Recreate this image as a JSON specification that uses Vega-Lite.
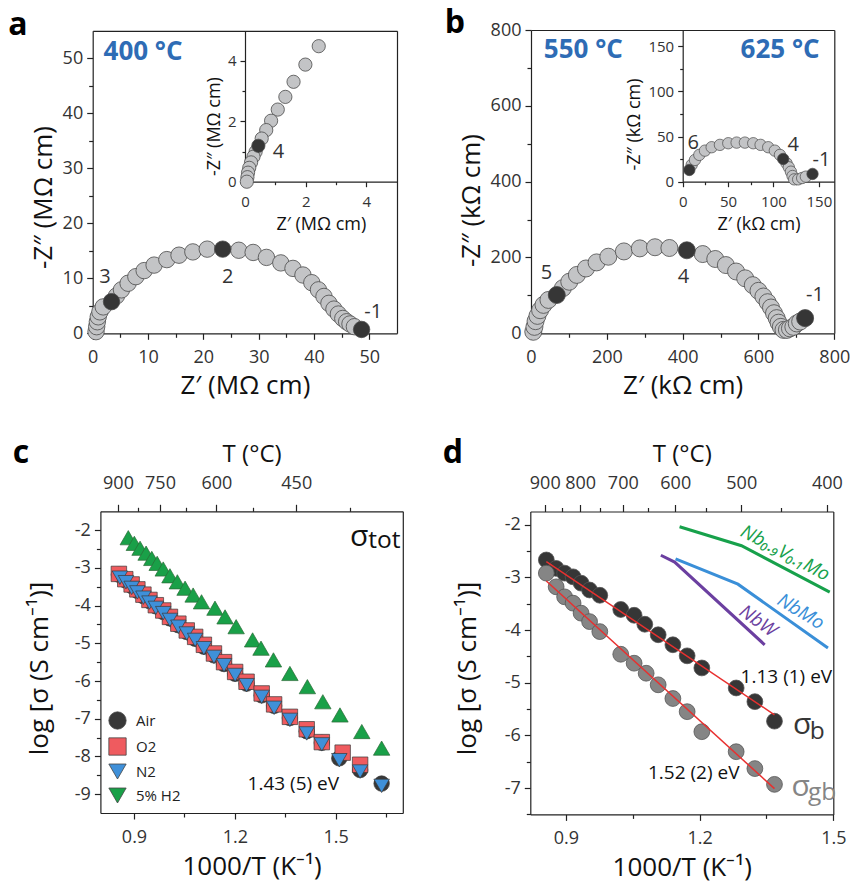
{
  "$schema": "https://vega.github.io/schema/vega-lite/v6.json",
  "width": 851,
  "height": 887,
  "autosize": "none",
  "padding": 0,
  "background": "white",
  "config": {
    "view": {"stroke": null},
    "axis": {"grid": false, "labelFont": "Open Sans", "titleFont": "Open Sans", "labelColor": "#333333", "titleColor": "#111111", "domainColor": "#222222", "tickColor": "#222222", "labelFlush": false, "labelOverlap": false, "labelBound": false, "titleFontWeight": "normal", "tickWidth": 1.2, "domainWidth": 1.2, "labelFontSize": 18, "titleFontSize": 26, "labelPadding": 4},
    "text": {"font": "Open Sans"}
  },
  "resolve": {"scale": {"x": "independent", "y": "independent", "color": "independent", "shape": "independent", "size": "independent", "angle": "independent"}, "axis": {"x": "independent", "y": "independent"}},
  "datasets": {
    "aMain": [
      {"z": 0.6, "zz": 0.3, "k": "l"}, {"z": 0.72, "zz": 1.2, "k": "l"}, {"z": 0.84, "zz": 2.1, "k": "l"}, {"z": 1.0, "zz": 3.0, "k": "l"}, {"z": 1.3, "zz": 3.9, "k": "l"}, {"z": 1.9, "zz": 4.8, "k": "l"}, {"z": 3.4, "zz": 5.75, "k": "d"}, {"z": 4.3, "zz": 6.8, "k": "l"}, {"z": 5.2, "zz": 7.9, "k": "l"}, {"z": 6.4, "zz": 9.1, "k": "l"}, {"z": 7.8, "zz": 10.3, "k": "l"}, {"z": 9.3, "zz": 11.4, "k": "l"}, {"z": 11.1, "zz": 12.4, "k": "l"}, {"z": 13.4, "zz": 13.4, "k": "l"}, {"z": 15.6, "zz": 14.2, "k": "l"}, {"z": 18.1, "zz": 14.8, "k": "l"}, {"z": 20.7, "zz": 15.3, "k": "l"}, {"z": 23.5, "zz": 15.3, "k": "d"}, {"z": 26.4, "zz": 15.1, "k": "l"}, {"z": 29.0, "zz": 14.7, "k": "l"}, {"z": 31.4, "zz": 13.8, "k": "l"}, {"z": 34.0, "zz": 12.8, "k": "l"}, {"z": 36.2, "zz": 11.8, "k": "l"}, {"z": 38.0, "zz": 10.6, "k": "l"}, {"z": 39.6, "zz": 9.2, "k": "l"}, {"z": 40.8, "zz": 7.9, "k": "l"}, {"z": 41.8, "zz": 6.7, "k": "l"}, {"z": 42.7, "zz": 5.45, "k": "l"}, {"z": 43.6, "zz": 4.4, "k": "l"}, {"z": 44.4, "zz": 3.5, "k": "l"}, {"z": 45.2, "zz": 2.7, "k": "l"}, {"z": 45.9, "zz": 2.1, "k": "l"}, {"z": 46.5, "zz": 1.7, "k": "l"}, {"z": 47.3, "zz": 1.2, "k": "l"}, {"z": 48.6, "zz": 0.7, "k": "d"}
    ],
    "aLbl": [{"t": "3", "z": 2.2, "zz": 10.3}, {"t": "2", "z": 24.4, "zz": 10.3}, {"t": "-1", "z": 50.7, "zz": 3.9}],
    "aBold": [{"t": "a", "z": -13.5, "zz": 56.0, "r": "letter"}, {"t": "400 °C", "z": 9.1, "zz": 51.2, "r": "temp"}],
    "aIns": [
      {"z": 2.43, "zz": 4.49, "k": "l"}, {"z": 1.99, "zz": 3.88, "k": "l"}, {"z": 1.60, "zz": 3.31, "k": "l"}, {"z": 1.33, "zz": 2.81, "k": "l"}, {"z": 1.08, "zz": 2.39, "k": "l"}, {"z": 0.86, "zz": 2.02, "k": "l"}, {"z": 0.70, "zz": 1.71, "k": "l"}, {"z": 0.55, "zz": 1.43, "k": "l"}, {"z": 0.44, "zz": 1.19, "k": "d"}, {"z": 0.35, "zz": 0.99, "k": "l"}, {"z": 0.28, "zz": 0.83, "k": "l"}, {"z": 0.20, "zz": 0.64, "k": "l"}, {"z": 0.14, "zz": 0.46, "k": "l"}, {"z": 0.10, "zz": 0.30, "k": "l"}, {"z": 0.08, "zz": 0.15, "k": "l"}, {"z": 0.06, "zz": 0.0, "k": "l"}
    ],
    "aInsLbl": [{"t": "4", "z": 1.1, "zz": 1.0}],
    "bMain": [
      {"z": 6, "zz": 4, "k": "l"}, {"z": 9, "zz": 17, "k": "l"}, {"z": 12, "zz": 32, "k": "l"}, {"z": 17, "zz": 46, "k": "l"}, {"z": 24, "zz": 61, "k": "l"}, {"z": 33, "zz": 75, "k": "l"}, {"z": 46, "zz": 88, "k": "l"}, {"z": 68, "zz": 101, "k": "d"}, {"z": 84, "zz": 119, "k": "l"}, {"z": 101, "zz": 136, "k": "l"}, {"z": 121, "zz": 154, "k": "l"}, {"z": 145, "zz": 171, "k": "l"}, {"z": 173, "zz": 187, "k": "l"}, {"z": 204, "zz": 202, "k": "l"}, {"z": 245, "zz": 216, "k": "l"}, {"z": 287, "zz": 224, "k": "l"}, {"z": 327, "zz": 227, "k": "l"}, {"z": 365, "zz": 225, "k": "l"}, {"z": 411, "zz": 219, "k": "d"}, {"z": 453, "zz": 209, "k": "l"}, {"z": 486, "zz": 196, "k": "l"}, {"z": 514, "zz": 180, "k": "l"}, {"z": 541, "zz": 163, "k": "l"}, {"z": 565, "zz": 145, "k": "l"}, {"z": 585, "zz": 127, "k": "l"}, {"z": 600, "zz": 112, "k": "l"}, {"z": 613, "zz": 97, "k": "l"}, {"z": 624, "zz": 82, "k": "l"}, {"z": 633, "zz": 68, "k": "l"}, {"z": 641, "zz": 53, "k": "l"}, {"z": 648, "zz": 40, "k": "l"}, {"z": 653, "zz": 28, "k": "l"}, {"z": 659, "zz": 17, "k": "l"}, {"z": 666, "zz": 9, "k": "l"}, {"z": 675, "zz": 9, "k": "l"}, {"z": 683, "zz": 13, "k": "l"}, {"z": 692, "zz": 17, "k": "l"}, {"z": 701, "zz": 26, "k": "l"}, {"z": 710, "zz": 31, "k": "l"}, {"z": 723, "zz": 40, "k": "d"}
    ],
    "bLbl": [{"t": "5", "z": 41, "zz": 158}, {"t": "4", "z": 402, "zz": 149}, {"t": "-1", "z": 749, "zz": 101}],
    "bBold": [{"t": "b", "z": -200.5, "zz": 818.5, "r": "letter"}, {"t": "550 °C", "z": 138, "zz": 747, "r": "temp"}, {"t": "625 °C", "z": 657, "zz": 747, "r": "temp"}],
    "bIns": [
      {"z": 7.3, "zz": 13.0, "k": "d"}, {"z": 9.9, "zz": 18.6, "k": "l"}, {"z": 13.5, "zz": 24.1, "k": "l"}, {"z": 18.3, "zz": 29.7, "k": "l"}, {"z": 24.5, "zz": 34.4, "k": "l"}, {"z": 31.9, "zz": 38.2, "k": "l"}, {"z": 41.0, "zz": 40.8, "k": "l"}, {"z": 50.2, "zz": 42.6, "k": "l"}, {"z": 59.4, "zz": 43.3, "k": "l"}, {"z": 68.5, "zz": 43.3, "k": "l"}, {"z": 77.7, "zz": 42.6, "k": "l"}, {"z": 85.8, "zz": 40.8, "k": "l"}, {"z": 94.2, "zz": 38.2, "k": "l"}, {"z": 101.5, "zz": 34.4, "k": "l"}, {"z": 107.1, "zz": 29.7, "k": "l"}, {"z": 110.7, "zz": 25.2, "k": "d"}, {"z": 114.4, "zz": 20.4, "k": "l"}, {"z": 116.9, "zz": 16.0, "k": "l"}, {"z": 119.2, "zz": 11.1, "k": "l"}, {"z": 121.0, "zz": 6.3, "k": "l"}, {"z": 122.8, "zz": 2.6, "k": "l"}, {"z": 127.2, "zz": 2.6, "k": "l"}, {"z": 131.6, "zz": 4.1, "k": "l"}, {"z": 135.7, "zz": 5.6, "k": "l"}, {"z": 143.0, "zz": 8.6, "k": "d"}
    ],
    "bInsLbl": [{"t": "6", "z": 11.7, "zz": 42.7}, {"t": "4", "z": 121.7, "zz": 40.8}, {"t": "-1", "z": 152.9, "zz": 24.1}],
    "cGas": [
      {"g": "Air", "x": 0.855, "y": -3.18}, {"g": "Air", "x": 0.874, "y": -3.33}, {"g": "Air", "x": 0.893, "y": -3.48}, {"g": "Air", "x": 0.910, "y": -3.61}, {"g": "Air", "x": 0.928, "y": -3.75}, {"g": "Air", "x": 0.946, "y": -3.88}, {"g": "Air", "x": 0.965, "y": -4.02}, {"g": "Air", "x": 0.987, "y": -4.17}, {"g": "Air", "x": 1.007, "y": -4.34}, {"g": "Air", "x": 1.032, "y": -4.52}, {"g": "Air", "x": 1.057, "y": -4.70}, {"g": "Air", "x": 1.082, "y": -4.88}, {"g": "Air", "x": 1.108, "y": -5.09}, {"g": "Air", "x": 1.138, "y": -5.32}, {"g": "Air", "x": 1.168, "y": -5.55}, {"g": "Air", "x": 1.201, "y": -5.81}, {"g": "Air", "x": 1.235, "y": -6.07}, {"g": "Air", "x": 1.280, "y": -6.38}, {"g": "Air", "x": 1.317, "y": -6.66}, {"g": "Air", "x": 1.364, "y": -6.98}, {"g": "Air", "x": 1.414, "y": -7.33}, {"g": "Air", "x": 1.459, "y": -7.64}, {"g": "Air", "x": 1.511, "y": -8.05}, {"g": "Air", "x": 1.573, "y": -8.36}, {"g": "Air", "x": 1.637, "y": -8.72},
      {"g": "O2", "x": 0.855, "y": -3.16}, {"g": "O2", "x": 0.874, "y": -3.30}, {"g": "O2", "x": 0.893, "y": -3.44}, {"g": "O2", "x": 0.910, "y": -3.57}, {"g": "O2", "x": 0.928, "y": -3.71}, {"g": "O2", "x": 0.946, "y": -3.85}, {"g": "O2", "x": 0.965, "y": -3.99}, {"g": "O2", "x": 0.987, "y": -4.13}, {"g": "O2", "x": 1.007, "y": -4.30}, {"g": "O2", "x": 1.032, "y": -4.48}, {"g": "O2", "x": 1.057, "y": -4.66}, {"g": "O2", "x": 1.082, "y": -4.83}, {"g": "O2", "x": 1.108, "y": -5.04}, {"g": "O2", "x": 1.138, "y": -5.27}, {"g": "O2", "x": 1.168, "y": -5.50}, {"g": "O2", "x": 1.201, "y": -5.76}, {"g": "O2", "x": 1.235, "y": -6.02}, {"g": "O2", "x": 1.280, "y": -6.33}, {"g": "O2", "x": 1.317, "y": -6.62}, {"g": "O2", "x": 1.364, "y": -6.95}, {"g": "O2", "x": 1.414, "y": -7.28}, {"g": "O2", "x": 1.459, "y": -7.62}, {"g": "O2", "x": 1.521, "y": -7.90}, {"g": "O2", "x": 1.573, "y": -8.22},
      {"g": "N2", "x": 0.858, "y": -3.26}, {"g": "N2", "x": 0.876, "y": -3.38}, {"g": "N2", "x": 0.893, "y": -3.53}, {"g": "N2", "x": 0.910, "y": -3.65}, {"g": "N2", "x": 0.928, "y": -3.79}, {"g": "N2", "x": 0.946, "y": -3.92}, {"g": "N2", "x": 0.965, "y": -4.06}, {"g": "N2", "x": 0.987, "y": -4.20}, {"g": "N2", "x": 1.007, "y": -4.38}, {"g": "N2", "x": 1.032, "y": -4.56}, {"g": "N2", "x": 1.057, "y": -4.74}, {"g": "N2", "x": 1.082, "y": -4.91}, {"g": "N2", "x": 1.108, "y": -5.13}, {"g": "N2", "x": 1.138, "y": -5.36}, {"g": "N2", "x": 1.168, "y": -5.58}, {"g": "N2", "x": 1.201, "y": -5.84}, {"g": "N2", "x": 1.235, "y": -6.11}, {"g": "N2", "x": 1.280, "y": -6.42}, {"g": "N2", "x": 1.317, "y": -6.71}, {"g": "N2", "x": 1.364, "y": -7.03}, {"g": "N2", "x": 1.414, "y": -7.39}, {"g": "N2", "x": 1.459, "y": -7.68}, {"g": "N2", "x": 1.511, "y": -8.10}, {"g": "N2", "x": 1.573, "y": -8.40}, {"g": "N2", "x": 1.637, "y": -8.78}
    ],
    "cH2": [
      {"x": 0.883, "y": -2.20}, {"x": 0.901, "y": -2.35}, {"x": 0.918, "y": -2.48}, {"x": 0.936, "y": -2.61}, {"x": 0.953, "y": -2.75}, {"x": 0.969, "y": -2.88}, {"x": 0.987, "y": -3.03}, {"x": 1.007, "y": -3.21}, {"x": 1.029, "y": -3.37}, {"x": 1.052, "y": -3.54}, {"x": 1.076, "y": -3.72}, {"x": 1.101, "y": -3.90}, {"x": 1.141, "y": -4.07}, {"x": 1.171, "y": -4.30}, {"x": 1.204, "y": -4.56}, {"x": 1.253, "y": -4.91}, {"x": 1.278, "y": -5.13}, {"x": 1.315, "y": -5.44}, {"x": 1.364, "y": -5.80}, {"x": 1.416, "y": -6.15}, {"x": 1.462, "y": -6.55}, {"x": 1.513, "y": -6.90}, {"x": 1.578, "y": -7.34}, {"x": 1.637, "y": -7.78}
    ],
    "cTxt": [{"t": "σ", "x": 1.543, "y": -2.17, "r": "sym"}, {"t": "tot", "x": 1.597, "y": -2.28, "r": "sub"}, {"t": "1.43 (5) eV", "x": 1.238, "y": -8.73, "r": "ev"}],
    "cBold": [{"t": "c", "x": 0.5637, "y": 0.046}],
    "dPts": [
      {"s": "b", "x": 0.856, "y": -2.67}, {"s": "b", "x": 0.878, "y": -2.83}, {"s": "b", "x": 0.897, "y": -2.92}, {"s": "b", "x": 0.916, "y": -2.99}, {"s": "b", "x": 0.934, "y": -3.11}, {"s": "b", "x": 0.953, "y": -3.24}, {"s": "b", "x": 0.976, "y": -3.34}, {"s": "b", "x": 1.023, "y": -3.61}, {"s": "b", "x": 1.053, "y": -3.72}, {"s": "b", "x": 1.077, "y": -3.89}, {"s": "b", "x": 1.107, "y": -4.09}, {"s": "b", "x": 1.140, "y": -4.28}, {"s": "b", "x": 1.172, "y": -4.49}, {"s": "b", "x": 1.205, "y": -4.72}, {"s": "b", "x": 1.282, "y": -5.10}, {"s": "b", "x": 1.324, "y": -5.36}, {"s": "b", "x": 1.368, "y": -5.73},
      {"s": "gb", "x": 0.856, "y": -2.92}, {"s": "gb", "x": 0.878, "y": -3.18}, {"s": "gb", "x": 0.897, "y": -3.37}, {"s": "gb", "x": 0.916, "y": -3.49}, {"s": "gb", "x": 0.934, "y": -3.68}, {"s": "gb", "x": 0.953, "y": -3.84}, {"s": "gb", "x": 0.976, "y": -4.03}, {"s": "gb", "x": 1.023, "y": -4.46}, {"s": "gb", "x": 1.053, "y": -4.63}, {"s": "gb", "x": 1.080, "y": -4.82}, {"s": "gb", "x": 1.107, "y": -5.04}, {"s": "gb", "x": 1.140, "y": -5.30}, {"s": "gb", "x": 1.172, "y": -5.55}, {"s": "gb", "x": 1.205, "y": -5.93}, {"s": "gb", "x": 1.282, "y": -6.31}, {"s": "gb", "x": 1.324, "y": -6.63}, {"s": "gb", "x": 1.368, "y": -6.93}
    ],
    "dFit": [{"s": "b", "x": 0.856, "y": -2.70}, {"s": "b", "x": 1.368, "y": -5.61}, {"s": "gb", "x": 0.856, "y": -3.07}, {"s": "gb", "x": 1.368, "y": -7.01}],
    "dLit": [
      {"s": "NbV", "x": 1.155, "y": -2.04}, {"s": "NbV", "x": 1.294, "y": -2.40}, {"s": "NbV", "x": 1.492, "y": -3.28},
      {"s": "NbMo", "x": 1.146, "y": -2.65}, {"s": "NbMo", "x": 1.286, "y": -3.13}, {"s": "NbMo", "x": 1.488, "y": -4.34},
      {"s": "NbW", "x": 1.113, "y": -2.58}, {"s": "NbW", "x": 1.144, "y": -2.71}, {"s": "NbW", "x": 1.346, "y": -4.28}
    ],
    "dLitLbl": [{"s": "NbV", "t": "Nb₀.₉V₀.₁Mo", "x": 1.392, "y": -2.54}, {"s": "NbMo", "t": "NbMo", "x": 1.427, "y": -3.65}, {"s": "NbW", "t": "NbW", "x": 1.331, "y": -3.83}],
    "dTxt": [
      {"t": "1.13 (1) eV", "x": 1.292, "y": -4.89, "r": "ev", "c": "ev"}, {"t": "1.52 (2) eV", "x": 1.084, "y": -6.72, "r": "ev", "c": "ev"},
      {"t": "σ", "x": 1.4095, "y": -5.80, "r": "sym", "c": "b"}, {"t": "b", "x": 1.447, "y": -5.93, "r": "sub", "c": "b"},
      {"t": "σ", "x": 1.406, "y": -6.975, "r": "sym", "c": "gb"}, {"t": "gb", "x": 1.443, "y": -7.10, "r": "sub", "c": "gb"}
    ],
    "dBold": [{"t": "d", "x": 0.6465, "y": -0.639}]
  },
  "layer": [
    {
      "data": {"name": "aMain"},
      "mark": {"type": "point", "filled": true, "size": 270, "stroke": "#4a4a4a", "strokeWidth": 0.8, "opacity": 1},
      "encoding": {
        "x": {"field": "z", "type": "quantitative", "scale": {"domain": [0, 55], "range": [92.7, 397], "nice": false, "zero": false},
          "axis": {"orient": "bottom", "offset": -553.7, "values": [0, 5, 10, 15, 20, 25, 30, 35, 40, 45, 50], "labelExpr": "datum.value % 10 === 0 ? datum.label : ''", "tickSize": {"condition": {"test": "datum.value % 10 === 0", "value": 6}, "value": 4}, "title": "Z′ (MΩ cm)", "titlePadding": 6, "labelPadding": 9}},
        "y": {"field": "zz", "type": "quantitative", "scale": {"domain": [0, 55], "range": [333.3, 30.8], "nice": false, "zero": false},
          "axis": {"orient": "left", "offset": -92.7, "values": [0, 5, 10, 15, 20, 25, 30, 35, 40, 45, 50], "labelExpr": "datum.value % 10 === 0 ? datum.label : ''", "tickSize": {"condition": {"test": "datum.value % 10 === 0", "value": 6}, "value": 4}, "title": "-Z″ (MΩ cm)", "titlePadding": 6, "titleY": 197}},
        "color": {"field": "k", "type": "nominal", "scale": {"domain": ["l", "d"], "range": ["#c3c4c6", "#363636"]}, "legend": null},
        "order": {"field": "k", "type": "ordinal", "sort": "descending"}
      }
    },
    {
      "data": {"name": "aLbl"},
      "mark": {"type": "text", "fontSize": 20, "color": "#333333"},
      "encoding": {
        "x": {"field": "z", "type": "quantitative", "scale": {"domain": [0, 55], "range": [92.7, 397], "nice": false, "zero": false}, "axis": {"orient": "top", "offset": -30.8, "ticks": false, "labels": false, "title": null}},
        "y": {"field": "zz", "type": "quantitative", "scale": {"domain": [0, 55], "range": [333.3, 30.8], "nice": false, "zero": false}, "axis": {"orient": "right", "offset": -454, "ticks": false, "labels": false, "title": null}},
        "text": {"field": "t"}
      }
    },
    {
      "data": {"name": "aBold"},
      "mark": {"type": "text", "fontWeight": "bold"},
      "encoding": {
        "x": {"field": "z", "type": "quantitative", "scale": {"domain": [0, 55], "range": [92.7, 397], "nice": false, "zero": false}, "axis": null},
        "y": {"field": "zz", "type": "quantitative", "scale": {"domain": [0, 55], "range": [333.3, 30.8], "nice": false, "zero": false}, "axis": null},
        "text": {"field": "t"},
        "color": {"field": "r", "type": "nominal", "scale": {"domain": ["letter", "temp"], "range": ["#000000", "#2e6cb5"]}, "legend": null},
        "size": {"field": "r", "type": "ordinal", "scale": {"domain": ["letter", "temp"], "range": [32, 26]}, "legend": null}
      }
    },
    {
      "data": {"name": "aIns"},
      "mark": {"type": "point", "filled": true, "size": 175, "stroke": "#4a4a4a", "strokeWidth": 0.8, "opacity": 1},
      "encoding": {
        "x": {"field": "z", "type": "quantitative", "scale": {"domain": [0, 5], "range": [245, 396.7], "nice": false, "zero": false},
          "axis": {"orient": "bottom", "offset": -705.3, "values": [0, 1, 2, 3, 4], "labelExpr": "datum.value % 2 === 0 ? datum.label : ''", "tickSize": {"condition": {"test": "datum.value % 2 === 0", "value": 5}, "value": 3}, "title": "Z′ (MΩ cm)", "titleFontSize": 18, "labelFontSize": 15, "titlePadding": 6, "labelPadding": 8}},
        "y": {"field": "zz", "type": "quantitative", "scale": {"domain": [0, 5], "range": [181.7, 30.8], "nice": false, "zero": false},
          "axis": {"orient": "left", "offset": -245, "values": [0, 1, 2, 3, 4], "labelExpr": "datum.value % 2 === 0 ? datum.label : ''", "tickSize": {"condition": {"test": "datum.value % 2 === 0", "value": 5}, "value": 3}, "title": "-Z″ (MΩ cm)", "titleFontSize": 18, "labelFontSize": 15, "titlePadding": 4, "titleY": 126}},
        "color": {"field": "k", "type": "nominal", "scale": {"domain": ["l", "d"], "range": ["#c3c4c6", "#363636"]}, "legend": null},
        "order": {"field": "k", "type": "ordinal", "sort": "descending"}
      }
    },
    {
      "data": {"name": "aInsLbl"},
      "mark": {"type": "text", "fontSize": 20, "color": "#333333"},
      "encoding": {
        "x": {"field": "z", "type": "quantitative", "scale": {"domain": [0, 5], "range": [245, 396.7], "nice": false, "zero": false}, "axis": null},
        "y": {"field": "zz", "type": "quantitative", "scale": {"domain": [0, 5], "range": [181.7, 30.8], "nice": false, "zero": false}, "axis": null},
        "text": {"field": "t"}
      }
    },
    {
      "data": {"name": "bMain"},
      "mark": {"type": "point", "filled": true, "size": 290, "stroke": "#4a4a4a", "strokeWidth": 0.8, "opacity": 1},
      "encoding": {
        "x": {"field": "z", "type": "quantitative", "scale": {"domain": [0, 800], "range": [531, 834.3], "nice": false, "zero": false},
          "axis": {"orient": "bottom", "offset": -553.7, "values": [0, 100, 200, 300, 400, 500, 600, 700, 800], "labelExpr": "datum.value % 200 === 0 ? datum.label : ''", "tickSize": {"condition": {"test": "datum.value % 200 === 0", "value": 6}, "value": 4}, "title": "Z′ (kΩ cm)", "titlePadding": 6, "labelPadding": 9}},
        "y": {"field": "zz", "type": "quantitative", "scale": {"domain": [0, 800], "range": [333.3, 30], "nice": false, "zero": false},
          "axis": {"orient": "left", "offset": -531, "values": [0, 100, 200, 300, 400, 500, 600, 700, 800], "labelExpr": "datum.value % 200 === 0 ? datum.label : ''", "tickSize": {"condition": {"test": "datum.value % 200 === 0", "value": 6}, "value": 4}, "title": "-Z″ (kΩ cm)", "titlePadding": 6, "titleY": 200}},
        "color": {"field": "k", "type": "nominal", "scale": {"domain": ["l", "d"], "range": ["#c3c4c6", "#363636"]}, "legend": null},
        "order": {"field": "k", "type": "ordinal", "sort": "descending"}
      }
    },
    {
      "data": {"name": "bLbl"},
      "mark": {"type": "text", "fontSize": 20, "color": "#333333"},
      "encoding": {
        "x": {"field": "z", "type": "quantitative", "scale": {"domain": [0, 800], "range": [531, 834.3], "nice": false, "zero": false}, "axis": {"orient": "top", "offset": -30, "ticks": false, "labels": false, "title": null}},
        "y": {"field": "zz", "type": "quantitative", "scale": {"domain": [0, 800], "range": [333.3, 30], "nice": false, "zero": false}, "axis": {"orient": "right", "offset": -16.7, "ticks": false, "labels": false, "title": null}},
        "text": {"field": "t"}
      }
    },
    {
      "data": {"name": "bBold"},
      "mark": {"type": "text", "fontWeight": "bold"},
      "encoding": {
        "x": {"field": "z", "type": "quantitative", "scale": {"domain": [0, 800], "range": [531, 834.3], "nice": false, "zero": false}, "axis": null},
        "y": {"field": "zz", "type": "quantitative", "scale": {"domain": [0, 800], "range": [333.3, 30], "nice": false, "zero": false}, "axis": null},
        "text": {"field": "t"},
        "color": {"field": "r", "type": "nominal", "scale": {"domain": ["letter", "temp"], "range": ["#000000", "#2e6cb5"]}, "legend": null},
        "size": {"field": "r", "type": "ordinal", "scale": {"domain": ["letter", "temp"], "range": [32, 26]}, "legend": null}
      }
    },
    {
      "data": {"name": "bIns"},
      "mark": {"type": "point", "filled": true, "size": 130, "stroke": "#4a4a4a", "strokeWidth": 0.7, "opacity": 1},
      "encoding": {
        "x": {"field": "z", "type": "quantitative", "scale": {"domain": [0, 167], "range": [682.7, 834.3], "nice": false, "zero": false},
          "axis": {"orient": "bottom", "offset": -705.3, "values": [0, 25, 50, 75, 100, 125, 150], "labelExpr": "datum.value % 50 === 0 ? datum.label : ''", "tickSize": {"condition": {"test": "datum.value % 50 === 0", "value": 5}, "value": 3}, "title": "Z′ (kΩ cm)", "titleFontSize": 18, "labelFontSize": 15, "titlePadding": 6, "labelPadding": 8}},
        "y": {"field": "zz", "type": "quantitative", "scale": {"domain": [0, 168], "range": [181.7, 30], "nice": false, "zero": false},
          "axis": {"orient": "left", "offset": -682.7, "values": [0, 25, 50, 75, 100, 125, 150], "labelExpr": "datum.value % 50 === 0 ? datum.label : ''", "tickSize": {"condition": {"test": "datum.value % 50 === 0", "value": 5}, "value": 3}, "title": "-Z″ (kΩ cm)", "titleFontSize": 18, "labelFontSize": 15, "titlePadding": 4, "titleY": 124}},
        "color": {"field": "k", "type": "nominal", "scale": {"domain": ["l", "d"], "range": ["#c3c4c6", "#363636"]}, "legend": null},
        "order": {"field": "k", "type": "ordinal", "sort": "descending"}
      }
    },
    {
      "data": {"name": "bInsLbl"},
      "mark": {"type": "text", "fontSize": 20, "color": "#333333"},
      "encoding": {
        "x": {"field": "z", "type": "quantitative", "scale": {"domain": [0, 167], "range": [682.7, 834.3], "nice": false, "zero": false}, "axis": null},
        "y": {"field": "zz", "type": "quantitative", "scale": {"domain": [0, 168], "range": [181.7, 30], "nice": false, "zero": false}, "axis": null},
        "text": {"field": "t"}
      }
    },
    {
      "data": {"name": "cGas"},
      "mark": {"type": "point", "filled": true, "size": 240, "stroke": "#3a3a3a", "strokeWidth": 0.7, "opacity": 1},
      "encoding": {
        "x": {"field": "x", "type": "quantitative", "scale": {"domain": [0.8, 1.7], "range": [100.4, 402.8], "nice": false, "zero": false},
          "axis": {"orient": "bottom", "offset": -74, "values": [0.9, 1.05, 1.2, 1.35, 1.5, 1.65], "labelExpr": "round(datum.value*20) % 6 === 0 ? datum.label : ''", "tickSize": {"condition": {"test": "round(datum.value*20) % 6 === 0", "value": 6}, "value": 4}, "title": "1000/T (K⁻¹)", "titlePadding": 7, "labelPadding": 9}},
        "y": {"field": "y", "type": "quantitative", "scale": {"domain": [-9.5, -1.5], "range": [813, 511.3], "nice": false, "zero": false},
          "axis": {"orient": "left", "offset": -100.4, "values": [-9, -8.5, -8, -7.5, -7, -6.5, -6, -5.5, -5, -4.5, -4, -3.5, -3, -2.5, -2], "labelExpr": "datum.value % 1 === 0 ? '' + datum.value : ''", "tickSize": {"condition": {"test": "datum.value % 1 === 0", "value": 6}, "value": 4}, "title": "log [σ (S cm⁻¹)]", "titlePadding": 22, "titleY": 668}},
        "color": {"field": "g", "type": "nominal", "scale": {"domain": ["Air", "O2", "N2", "5% H2"], "range": ["#383838", "#ef5b5f", "#3f90d9", "#19a048"]},
          "legend": {"orient": "none", "legendX": 108, "legendY": 711, "title": null, "symbolSize": 300, "labelFontSize": 15, "labelFont": "Open Sans", "labelColor": "#222222", "rowPadding": 5, "symbolStrokeColor": "#444444", "symbolStrokeWidth": 0.8, "padding": 0, "labelOffset": 9}},
        "shape": {"field": "g", "type": "nominal", "scale": {"domain": ["Air", "O2", "N2", "5% H2"], "range": ["circle", "square", "triangle-down", "triangle-down"]},
          "legend": {"orient": "none", "legendX": 108, "legendY": 711, "title": null, "symbolSize": 300, "labelFontSize": 15, "labelFont": "Open Sans", "labelColor": "#222222", "rowPadding": 5, "symbolStrokeColor": "#444444", "symbolStrokeWidth": 0.8, "padding": 0, "labelOffset": 9}}
      }
    },
    {
      "data": {"name": "cH2"},
      "mark": {"type": "point", "shape": "triangle-up", "filled": true, "size": 270, "color": "#19a048", "stroke": "#2b6a37", "strokeWidth": 0.7, "opacity": 1},
      "encoding": {
        "x": {"field": "x", "type": "quantitative", "scale": {"domain": [0.8, 1.7], "range": [100.4, 402.8], "nice": false, "zero": false},
          "axis": {"orient": "top", "offset": -511.3, "values": [0.85241, 0.91062, 0.97737, 1.05469, 1.14528, 1.2529, 1.38284, 1.54285], "labelExpr": "round(1000/datum.value-273.15) % 150 === 0 ? '' + round(1000/datum.value-273.15) : ''", "tickSize": {"condition": {"test": "round(1000/datum.value-273.15) % 150 === 0", "value": 7}, "value": 4}, "title": "T (°C)", "titleFontSize": 24, "titlePadding": 8, "labelPadding": 12}},
        "y": {"field": "y", "type": "quantitative", "scale": {"domain": [-9.5, -1.5], "range": [813, 511.3], "nice": false, "zero": false}, "axis": {"orient": "right", "offset": -448.2, "ticks": false, "labels": false, "title": null}}
      }
    },
    {
      "data": {"name": "cTxt"},
      "mark": {"type": "text", "align": "left", "baseline": "middle", "color": "#111111"},
      "encoding": {
        "x": {"field": "x", "type": "quantitative", "scale": {"domain": [0.8, 1.7], "range": [100.4, 402.8], "nice": false, "zero": false}, "axis": null},
        "y": {"field": "y", "type": "quantitative", "scale": {"domain": [-9.5, -1.5], "range": [813, 511.3], "nice": false, "zero": false}, "axis": null},
        "text": {"field": "t"},
        "size": {"field": "r", "type": "ordinal", "scale": {"domain": ["sym", "sub", "ev"], "range": [30, 19, 16]}, "legend": null}
      }
    },
    {
      "data": {"name": "cBold"},
      "mark": {"type": "text", "fontWeight": "bold", "fontSize": 32, "color": "#000000"},
      "encoding": {
        "x": {"field": "x", "type": "quantitative", "scale": {"domain": [0.8, 1.7], "range": [100.4, 402.8], "nice": false, "zero": false}, "axis": null},
        "y": {"field": "y", "type": "quantitative", "scale": {"domain": [-9.5, -1.5], "range": [813, 511.3], "nice": false, "zero": false}, "axis": null},
        "text": {"field": "t"}
      }
    },
    {
      "data": {"name": "dLit"},
      "mark": {"type": "line", "strokeWidth": 3},
      "encoding": {
        "x": {"field": "x", "type": "quantitative", "scale": {"domain": [0.82, 1.5], "range": [530.3, 833.3], "nice": false, "zero": false}, "axis": null},
        "y": {"field": "y", "type": "quantitative", "scale": {"domain": [-7.5, -1.75], "range": [814.4, 511.5], "nice": false, "zero": false}, "axis": null},
        "color": {"field": "s", "type": "nominal", "scale": {"domain": ["NbV", "NbMo", "NbW"], "range": ["#17a14b", "#3a8fd8", "#6b3fa0"]}, "legend": null}
      }
    },
    {
      "data": {"name": "dLitLbl"},
      "mark": {"type": "text", "fontStyle": "italic", "fontSize": 19},
      "encoding": {
        "x": {"field": "x", "type": "quantitative", "scale": {"domain": [0.82, 1.5], "range": [530.3, 833.3], "nice": false, "zero": false}, "axis": null},
        "y": {"field": "y", "type": "quantitative", "scale": {"domain": [-7.5, -1.75], "range": [814.4, 511.5], "nice": false, "zero": false}, "axis": null},
        "text": {"field": "t"},
        "color": {"field": "s", "type": "nominal", "scale": {"domain": ["NbV", "NbMo", "NbW"], "range": ["#17a14b", "#3a8fd8", "#6b3fa0"]}, "legend": null},
        "angle": {"field": "s", "type": "nominal", "scale": {"domain": ["NbV", "NbMo", "NbW"], "range": [28, 35, 42]}, "legend": null}
      }
    },
    {
      "data": {"name": "dPts"},
      "mark": {"type": "point", "filled": true, "size": 250, "stroke": "#555555", "strokeWidth": 0.8, "opacity": 1},
      "encoding": {
        "x": {"field": "x", "type": "quantitative", "scale": {"domain": [0.82, 1.5], "range": [530.3, 833.3], "nice": false, "zero": false},
          "axis": {"orient": "bottom", "offset": -72.6, "values": [0.9, 1.05, 1.2, 1.35, 1.5], "labelExpr": "round(datum.value*20) % 6 === 0 ? datum.label : ''", "tickSize": {"condition": {"test": "round(datum.value*20) % 6 === 0", "value": 6}, "value": 4}, "title": "1000/T (K⁻¹)", "titlePadding": 7, "labelPadding": 9}},
        "y": {"field": "y", "type": "quantitative", "scale": {"domain": [-7.5, -1.75], "range": [814.4, 511.5], "nice": false, "zero": false},
          "axis": {"orient": "left", "offset": -530.3, "values": [-7.5, -7, -6.5, -6, -5.5, -5, -4.5, -4, -3.5, -3, -2.5, -2], "labelExpr": "datum.value % 1 === 0 ? '' + datum.value : ''", "tickSize": {"condition": {"test": "datum.value % 1 === 0", "value": 6}, "value": 4}, "title": "log [σ (S cm⁻¹)]", "titlePadding": 24, "titleY": 668}},
        "color": {"field": "s", "type": "nominal", "scale": {"domain": ["b", "gb"], "range": ["#363636", "#858585"]}, "legend": null}
      }
    },
    {
      "data": {"name": "dFit"},
      "mark": {"type": "line", "strokeWidth": 1.5, "color": "#e8302f"},
      "encoding": {
        "x": {"field": "x", "type": "quantitative", "scale": {"domain": [0.82, 1.5], "range": [530.3, 833.3], "nice": false, "zero": false},
          "axis": {"orient": "top", "offset": -511.5, "values": [0.85241, 0.89035, 0.93184, 0.97737, 1.02759, 1.08325, 1.14528, 1.21485, 1.29341, 1.38284, 1.48555], "labelExpr": "round(1000/datum.value-273.15) % 100 === 0 ? '' + round(1000/datum.value-273.15) : ''", "tickSize": {"condition": {"test": "round(1000/datum.value-273.15) % 100 === 0", "value": 7}, "value": 4}, "title": "T (°C)", "titleFontSize": 24, "titlePadding": 8, "labelPadding": 12}},
        "y": {"field": "y", "type": "quantitative", "scale": {"domain": [-7.5, -1.75], "range": [814.4, 511.5], "nice": false, "zero": false}, "axis": {"orient": "right", "offset": -17.7, "ticks": false, "labels": false, "title": null}},
        "detail": {"field": "s", "type": "nominal"}
      }
    },
    {
      "data": {"name": "dTxt"},
      "mark": {"type": "text", "align": "left", "baseline": "middle"},
      "encoding": {
        "x": {"field": "x", "type": "quantitative", "scale": {"domain": [0.82, 1.5], "range": [530.3, 833.3], "nice": false, "zero": false}, "axis": null},
        "y": {"field": "y", "type": "quantitative", "scale": {"domain": [-7.5, -1.75], "range": [814.4, 511.5], "nice": false, "zero": false}, "axis": null},
        "text": {"field": "t"},
        "color": {"field": "c", "type": "nominal", "scale": {"domain": ["ev", "b", "gb"], "range": ["#111111", "#363636", "#858585"]}, "legend": null},
        "size": {"field": "r", "type": "ordinal", "scale": {"domain": ["sym", "sub", "ev"], "range": [30, 19, 16]}, "legend": null}
      }
    },
    {
      "data": {"name": "dBold"},
      "mark": {"type": "text", "fontWeight": "bold", "fontSize": 32, "color": "#000000"},
      "encoding": {
        "x": {"field": "x", "type": "quantitative", "scale": {"domain": [0.82, 1.5], "range": [530.3, 833.3], "nice": false, "zero": false}, "axis": null},
        "y": {"field": "y", "type": "quantitative", "scale": {"domain": [-7.5, -1.75], "range": [814.4, 511.5], "nice": false, "zero": false}, "axis": null},
        "text": {"field": "t"}
      }
    }
  ]
}
